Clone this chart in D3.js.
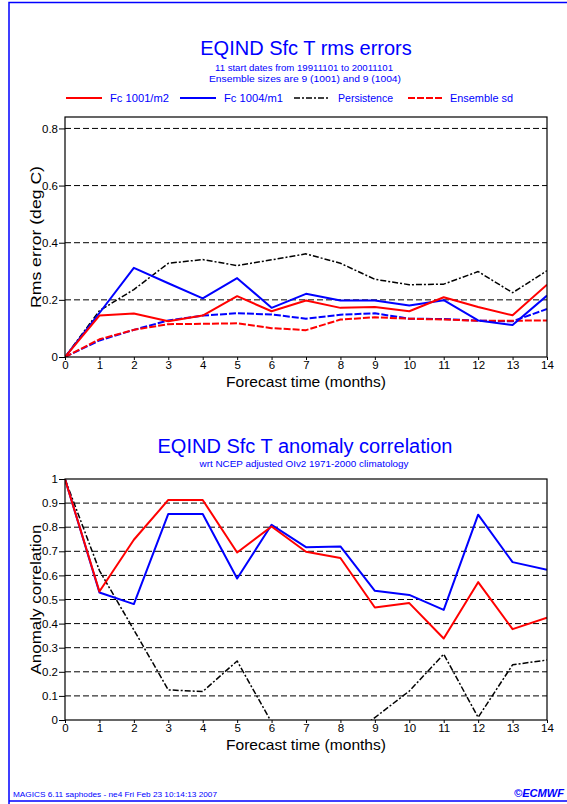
<!DOCTYPE html>
<html>
<head>
<meta charset="utf-8">
<script src="https://cdn.jsdelivr.net/npm/d3@7"></script>
<style>
  body { margin: 0; background: #fff; }
  svg { display: block; font-family: 'Liberation Sans', Arial, sans-serif; }
</style>
</head>
<body>
<svg id="chart" width="567" height="804"></svg>
<script>
'use strict';

// forecast months on the x axis
const months = [0, 1, 2, 3, 4, 5, 6, 7, 8, 9, 10, 11, 12, 13, 14];

// rms errors (deg C)
const rmsFc1001 = [0, 0.145, 0.152, 0.125, 0.145, 0.213, 0.160, 0.198, 0.172, 0.175, 0.160, 0.209, 0.175, 0.146, 0.253];
const rmsFc1004 = [0, 0.154, 0.312, 0.258, 0.205, 0.276, 0.172, 0.221, 0.198, 0.198, 0.180, 0.199, 0.128, 0.112, 0.215];
const rmsPersistence = [0, 0.162, 0.236, 0.328, 0.341, 0.320, 0.340, 0.361, 0.328, 0.272, 0.253, 0.255, 0.299, 0.225, 0.302];
const sdFc1001 = [0, 0.062, 0.095, 0.115, 0.116, 0.118, 0.101, 0.094, 0.131, 0.139, 0.134, 0.131, 0.127, 0.127, 0.128];
const sdFc1004 = [0, 0.058, 0.095, 0.128, 0.145, 0.153, 0.149, 0.134, 0.148, 0.153, 0.134, 0.133, 0.127, 0.125, 0.168];

// anomaly correlation
const acFc1001 = [1, 0.533, 0.748, 0.913, 0.913, 0.695, 0.803, 0.698, 0.672, 0.467, 0.485, 0.338, 0.572, 0.377, 0.425];
const acFc1004 = [1, 0.529, 0.481, 0.855, 0.855, 0.587, 0.810, 0.717, 0.720, 0.536, 0.519, 0.457, 0.852, 0.655, 0.623];
const acPersistence = [1, 0.62, 0.374, 0.125, 0.118, 0.245, -0.01, -0.2, -0.1, 0.01, 0.12, 0.273, 0.011, 0.229, 0.249];

const rmsTicks = [0, 0.2, 0.4, 0.6, 0.8];
const acTicks = [0, 0.1, 0.2, 0.3, 0.4, 0.5, 0.6, 0.7, 0.8, 0.9, 1];

const legendItems = ['Fc 1001/m2', 'Fc 1004/m1', 'Persistence', 'Ensemble sd'];

const styles = {
  fc1001: { color: '#ff0000', dash: null, width: 2 },
  fc1004: { color: '#0000ff', dash: null, width: 2 },
  persistence: { color: '#000000', dash: '6,2,2,2', width: 1.5 },
  sd1001: { color: '#ff0000', dash: '7,2', width: 2 },
  sd1004: { color: '#0000ff', dash: '7,2', width: 2 }
};

const titleBlue = '#0000ff';
const svg = d3.select('#chart');
const left = 65;
const right = 547;

// page frame
svg.append('path')
  .attr('d', 'M9,804 L9,2.5 L567,2.5')
  .attr('fill', 'none')
  .attr('stroke', titleBlue)
  .attr('stroke-width', 1.5);
svg.append('line')
  .attr('x1', 9).attr('x2', 567)
  .attr('y1', 801).attr('y2', 801)
  .attr('stroke', titleBlue)
  .attr('stroke-width', 1.5);

function centerText(x, y, txt, size, color, len) {
  const t = svg.append('text')
    .attr('x', x)
    .attr('y', y)
    .attr('text-anchor', 'middle')
    .attr('font-size', size)
    .attr('fill', color)
    .text(txt);
  if (len) t.attr('textLength', len).attr('lengthAdjust', 'spacingAndGlyphs');
  return t;
}

function drawPanel(cfg) {
  const x = d3.scaleLinear().domain([0, 14]).range([left, right]);
  const y = d3.scaleLinear().domain(cfg.domain).range([cfg.bottom, cfg.top]);
  const g = svg.append('g');

  // dashed grid lines
  g.selectAll('line.grid')
    .data(cfg.ticks.filter(v => v > 0 && y(v) > cfg.top + 1))
    .join('line')
    .attr('class', 'grid')
    .attr('x1', left).attr('x2', right)
    .attr('y1', d => y(d)).attr('y2', d => y(d))
    .attr('stroke', '#000')
    .attr('stroke-width', 1)
    .attr('stroke-dasharray', '6,3');

  const yAxis = g.append('g')
    .attr('transform', `translate(${left},0)`)
    .call(d3.axisLeft(y).tickValues(cfg.ticks).tickSize(6).tickPadding(1).tickFormat(d3.format('')));
  const xAxis = g.append('g')
    .attr('transform', `translate(0,${cfg.bottom})`)
    .call(d3.axisBottom(x).tickValues(months).tickSize(3).tickPadding(1));
  [yAxis, xAxis].forEach(a => {
    a.select('.domain').remove();
    a.selectAll('text').attr('font-size', 11.5).attr('fill', '#000').attr('font-family', 'Liberation Sans, Arial, sans-serif');
    a.selectAll('line').attr('stroke', '#000');
  });

  const clipId = `clip-${cfg.name}`;
  svg.append('clipPath').attr('id', clipId)
    .append('rect')
    .attr('x', left).attr('y', cfg.top)
    .attr('width', right - left).attr('height', cfg.bottom - cfg.top);

  const line = d3.line()
    .x((d, i) => x(months[i]))
    .y(d => y(d));

  g.append('g')
    .attr('clip-path', `url(#${clipId})`)
    .selectAll('path')
    .data(cfg.series)
    .join('path')
    .attr('d', s => line(s.values))
    .attr('fill', 'none')
    .attr('stroke', s => s.style.color)
    .attr('stroke-width', s => s.style.width)
    .attr('stroke-dasharray', s => s.style.dash)
    .attr('stroke-linejoin', 'round');

  // plot frame
  g.append('rect')
    .attr('x', left).attr('y', cfg.top)
    .attr('width', right - left).attr('height', cfg.bottom - cfg.top)
    .attr('fill', 'none')
    .attr('stroke', '#000')
    .attr('stroke-width', 1.2);

  centerText((left + right) / 2, cfg.bottom + 30, 'Forecast time (months)', 15, '#000', 160);
  svg.append('text')
    .attr('transform', `translate(41,${(cfg.top + cfg.bottom) / 2}) rotate(-90)`)
    .attr('text-anchor', 'middle')
    .attr('font-size', 15)
    .attr('fill', '#000')
    .attr('textLength', cfg.yLabelLen)
    .attr('lengthAdjust', 'spacingAndGlyphs')
    .text(cfg.yLabel);
}

// top panel: rms errors
centerText(306, 55, 'EQIND Sfc T rms errors', 20, titleBlue);
centerText(304, 71, '11 start dates from 19911101 to 20011101', 9, titleBlue, 178);
centerText(305, 82, 'Ensemble sizes are  9 (1001)  and  9 (1004)', 9, titleBlue, 192);

// legend
const legendStyles = [styles.fc1001, styles.fc1004, styles.persistence, styles.sd1001];
const legendX = [66, 180, 294, 408];
const legendLen = [59, 59, 55, 63];
const legend = svg.append('g').selectAll('g')
  .data(legendItems)
  .join('g')
  .attr('transform', (d, i) => `translate(${legendX[i]},98)`);
legend.append('line')
  .attr('x1', 0).attr('x2', 36)
  .attr('stroke', (d, i) => legendStyles[i].color)
  .attr('stroke-width', (d, i) => legendStyles[i].width)
  .attr('stroke-dasharray', (d, i) => legendStyles[i].dash);
legend.append('text')
  .attr('x', (d, i) => (i === 3 ? 42 : 44))
  .attr('y', 4)
  .attr('font-size', 10.5)
  .attr('fill', titleBlue)
  .attr('textLength', (d, i) => legendLen[i])
  .attr('lengthAdjust', 'spacingAndGlyphs')
  .text(d => d);

drawPanel({
  name: 'rms',
  top: 117,
  bottom: 357,
  domain: [0, 0.84],
  ticks: rmsTicks,
  yLabel: 'Rms error (deg C)',
  yLabelLen: 142,
  series: [
    { values: rmsPersistence, style: styles.persistence },
    { values: sdFc1004, style: styles.sd1004 },
    { values: sdFc1001, style: styles.sd1001 },
    { values: rmsFc1004, style: styles.fc1004 },
    { values: rmsFc1001, style: styles.fc1001 }
  ]
});

// bottom panel: anomaly correlation
centerText(305, 453, 'EQIND Sfc T anomaly correlation', 20, titleBlue);
centerText(304, 467, 'wrt NCEP adjusted OIv2 1971-2000 climatology', 9, titleBlue, 209);

drawPanel({
  name: 'ac',
  top: 479,
  bottom: 720,
  domain: [0, 1],
  ticks: acTicks,
  yLabel: 'Anomaly correlation',
  yLabelLen: 150,
  series: [
    { values: acPersistence, style: styles.persistence },
    { values: acFc1004, style: styles.fc1004 },
    { values: acFc1001, style: styles.fc1001 }
  ]
});

// footer
svg.append('text')
  .attr('x', 13)
  .attr('y', 797)
  .attr('font-size', 7.5)
  .attr('fill', titleBlue)
  .attr('textLength', 204)
  .attr('lengthAdjust', 'spacingAndGlyphs')
  .text('MAGICS 6.11 saphodes - ne4 Fri Feb 23 10:14:13 2007');
svg.append('text')
  .attr('x', 564)
  .attr('y', 797)
  .attr('text-anchor', 'end')
  .attr('font-size', 11)
  .attr('font-weight', 'bold')
  .attr('font-style', 'italic')
  .attr('fill', titleBlue)
  .attr('textLength', 50)
  .attr('lengthAdjust', 'spacingAndGlyphs')
  .text('©ECMWF');
</script>
</body>
</html>
